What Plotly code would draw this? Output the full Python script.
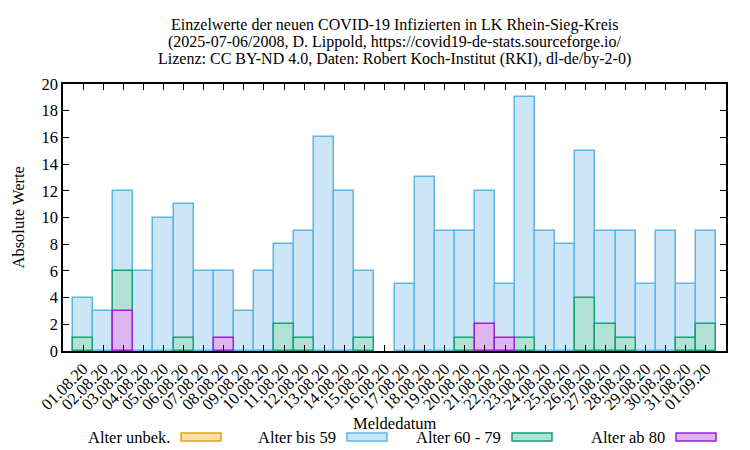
import plotly.graph_objects as go

dates = ["01.08.20","02.08.20","03.08.20","04.08.20","05.08.20","06.08.20","07.08.20","08.08.20",
         "09.08.20","10.08.20","11.08.20","12.08.20","13.08.20","14.08.20","15.08.20","16.08.20",
         "17.08.20","18.08.20","19.08.20","20.08.20","21.08.20","22.08.20","23.08.20","24.08.20",
         "25.08.20","26.08.20","27.08.20","28.08.20","29.08.20","30.08.20","31.08.20","01.09.20"]
alter_unbek = [0]*32
alter_bis_59 = [4,3,12,6,10,11,6,6,3,6,8,9,16,12,6,0,5,13,9,9,12,5,19,9,8,15,9,9,5,9,5,9]
alter_60_79 = [1,0,6,0,0,1,0,0,0,0,2,1,0,0,1,0,0,0,0,1,0,0,1,0,0,4,2,1,0,0,1,2]
alter_ab_80 = [0,0,3,0,0,0,0,1,0,0,0,0,0,0,0,0,0,0,0,0,2,1,0,0,0,0,0,0,0,0,0,0]

title_lines = [
    "Einzelwerte der neuen COVID-19 Infizierten in LK Rhein-Sieg-Kreis",
    "(2025-07-06/2008, D. Lippold, https://covid19-de-stats.sourceforge.io/",
    "Lizenz: CC BY-ND 4.0, Daten: Robert Koch-Institut (RKI), dl-de/by-2-0)",
]

series = [
    ("Alter unbek.", alter_unbek, "#F8DFAE", "#E6A117"),
    ("Alter bis 59", alter_bis_59, "#CDE6F7", "#5DB6E6"),
    ("Alter 60 - 79", alter_60_79, "#B3E2D4", "#13A07A"),
    ("Alter ab 80", alter_ab_80, "#DFB5F0", "#9622D4"),
]

FONT = "Liberation Serif"
FS = 16.5
fig = go.Figure()
x_idx = list(range(len(dates)))
for name, vals, fill, edge in series:
    fig.add_trace(go.Bar(
        x=x_idx, y=[v if v else None for v in vals], name=name, width=1,
        marker=dict(color=fill, line=dict(color=edge, width=1.5)),
        showlegend=False,
    ))

L, R, T, B = 63, 24, 84, 99
W, H = 750, 450
pw, ph = W - L - R, H - T - B
def px(pxx): return (pxx - L) / pw
def py(pyy): return (H - B - pyy) / ph

# gnuplot-style legend (text, then sample box)
leg = [(172, 181), (338, 347), (503, 512), (667, 676)]
for (name, vals, fill, edge), (tx, bx) in zip(series, leg):
    fig.add_annotation(x=px(tx), y=py(437), xref="paper", yref="paper",
                       text=name, showarrow=False, xanchor="right", yanchor="middle",
                       font=dict(family=FONT, size=FS, color="black"))
    fig.add_shape(type="rect", xref="paper", yref="paper",
                  x0=px(bx), x1=px(bx + 40), y0=py(441), y1=py(433),
                  fillcolor=fill, line=dict(color=edge, width=1.5))

fig.add_annotation(x=0.5, y=py(423), xref="paper", yref="paper",
                   text="Meldedatum", showarrow=False, yanchor="middle",
                   font=dict(family=FONT, size=FS, color="black"))
fig.add_annotation(x=px(18), y=0.5, xref="paper", yref="paper",
                   text="Absolute Werte", showarrow=False, textangle=-90,
                   xanchor="center", yanchor="middle",
                   font=dict(family=FONT, size=FS, color="black"))
for i, line in enumerate(title_lines):
    fig.add_annotation(x=0.5, y=py(25 + 17 * i), xref="paper", yref="paper",
                       text=line, showarrow=False, xanchor="center", yanchor="middle",
                       font=dict(family=FONT, size=16, color="black"))

fig.update_layout(
    width=W, height=H,
    margin=dict(l=L, r=R, t=T, b=B, autoexpand=False),
    paper_bgcolor="white", plot_bgcolor="white",
    barmode="overlay", bargap=0,
    font=dict(family=FONT, size=FS, color="black"),
    xaxis=dict(
        range=[-1, 32], tickmode="array", tickvals=x_idx, ticktext=dates,
        tickangle=-45, ticks="inside", ticklen=6, tickcolor="black",
        showline=True, linecolor="black", linewidth=1.5, mirror="allticks",
        showgrid=False, zeroline=False, automargin=False,
        tickfont=dict(family=FONT, size=FS),
    ),
    yaxis=dict(
        range=[0, 20], dtick=2, ticks="inside", ticklen=6, tickcolor="black",
        showline=True, linecolor="black", linewidth=1.5, mirror="allticks",
        showgrid=False, zeroline=False, automargin=False,
        tickfont=dict(family=FONT, size=FS),
    ),
)

fig.write_html("out.html", config={"displayModeBar": False},
               post_script="document.body.style.margin='0';document.body.style.overflow='hidden';")
